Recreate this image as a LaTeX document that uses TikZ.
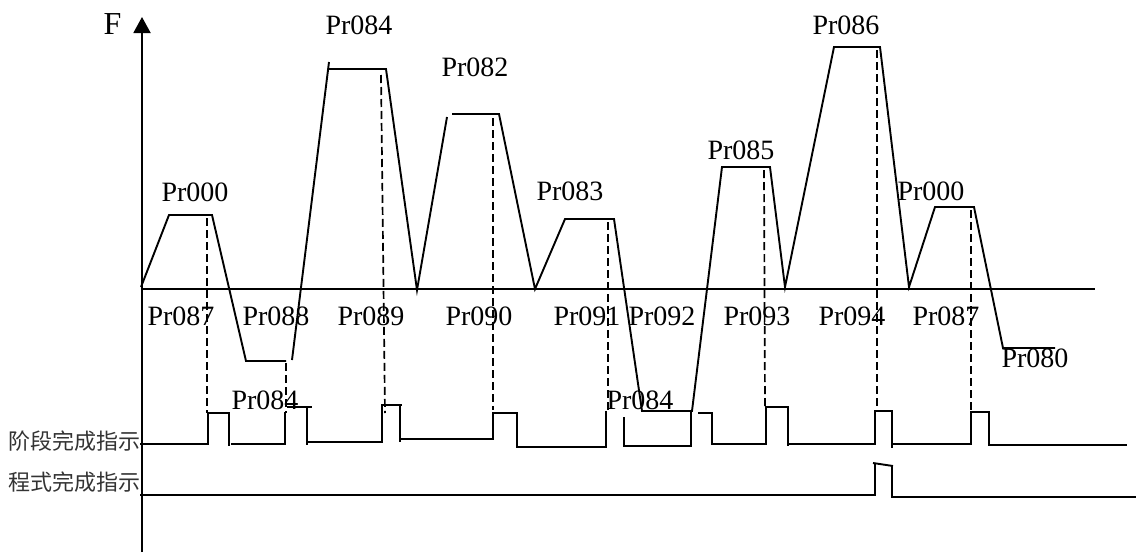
\documentclass[tikz,border=0pt]{standalone}
\usepackage{fontspec}
\setmainfont{Liberation Serif}
\newfontfamily\cjk{Noto Sans CJK SC}
\usetikzlibrary{arrows.meta}
\tikzset{
  sig/.style={line width=1.9pt, line join=miter},
  guide/.style={line width=1.7pt, dash pattern=on 8pt off 4pt},
  lbl/.style={inner sep=0pt, font=\fontsize{28}{30}\selectfont},
  cn/.style={inner sep=0pt, font=\cjk\fontsize{22}{24}\selectfont, text=black!80},
}
\begin{document}
\begin{tikzpicture}[x=1pt,y=-1pt]
\useasboundingbox (0,0) rectangle (1136,552);
% axes
\draw[sig, -{Triangle[length=16pt,width=17pt]}] (142,552) -- (142,17);
\node[lbl, font=\fontsize{32}{34}\selectfont] (F) at (112.5,24) {F};
\draw[sig] (142,289) -- (1095,289);
% frequency profile
\draw[sig] (141,287) -- (169,215) -- (212,215) -- (246,361) -- (286,361);
\draw[sig] (292,360) -- (329,62);
\draw[sig] (329,69) -- (386,69) -- (417,290) -- (447,117);
\draw[sig] (452,114) -- (499,114) -- (535,289) -- (565,219) -- (614,219) -- (642,411) -- (692,411)
  -- (722,167) -- (770,167) -- (785,287) -- (834,47) -- (880,47) -- (909,287) -- (935,207)
  -- (974,207) -- (1003,348) -- (1055,348);
% dashed guides
\draw[guide] (207,218) -- (207,413);
\draw[guide] (286,363) -- (286,413);
\draw[guide] (381,75) -- (385,413);
\draw[guide] (493,118) -- (493,410);
\draw[guide] (608,222) -- (608,411);
\draw[guide] (764,170) -- (765,407);
\draw[guide] (877,50) -- (877,410);
\draw[guide] (971,210) -- (971,410);
% stage complete signal
\draw[sig] (140,444) -- (208,444) -- (208,413) -- (229,413) -- (229,446);
\draw[sig] (231,444) -- (285,444) -- (285,412);
\draw[sig] (287,407) -- (312,407);
\draw[sig] (307,407) -- (307,445);
\draw[sig] (307,442) -- (382,442) -- (382,405) -- (402,405);
\draw[sig] (400,405) -- (400,442);
\draw[sig] (400,439) -- (493,439) -- (493,413) -- (517,413) -- (517,447) -- (606,447) -- (606,411);
\draw[sig] (624,417) -- (624,446) -- (691,446) -- (691,411);
\draw[sig] (698,413) -- (712,413) -- (712,445);
\draw[sig] (712,444) -- (766,444) -- (766,407) -- (788,407) -- (788,446);
\draw[sig] (788,444) -- (875,444) -- (875,411) -- (892,411) -- (892,448);
\draw[sig] (892,444) -- (971,444) -- (971,412) -- (989,412) -- (989,445) -- (1127,445);
% program complete signal
\draw[sig] (140,495) -- (875,495) -- (875,463);
\draw[sig] (873,463) -- (893,466);
\draw[sig] (892,466) -- (892,497) -- (1136,497);
% top labels
\node[lbl] (t1) at (195,192) {Pr000};
\node[lbl] (t2) at (359,25) {Pr084};
\node[lbl] (t3) at (475,67) {Pr082};
\node[lbl] (t4) at (570,191) {Pr083};
\node[lbl] (t5) at (741,150) {Pr085};
\node[lbl] (t6) at (846,25) {Pr086};
\node[lbl] (t7) at (931,191) {Pr000};
% bottom labels
\node[lbl] (b1) at (181,316) {Pr087};
\node[lbl] (b2) at (276,316) {Pr088};
\node[lbl] (b3) at (371,316) {Pr089};
\node[lbl] (b4) at (479,316) {Pr090};
\node[lbl] (b5) at (587,316) {Pr091};
\node[lbl] (b6) at (662,316) {Pr092};
\node[lbl] (b7) at (757,316) {Pr093};
\node[lbl] (b8) at (852,316) {Pr094};
\node[lbl] (b9) at (946,316) {Pr087};
\node[lbl] (b10) at (1035,358) {Pr080};
\node[lbl] (m1) at (265,400) {Pr084};
\node[lbl] (m2) at (640,400) {Pr084};
% signal names
\node[cn] (s1) at (75,441) {阶段完成指示};
\node[cn] (s2) at (75,482) {程式完成指示};
\end{tikzpicture}
\end{document}
